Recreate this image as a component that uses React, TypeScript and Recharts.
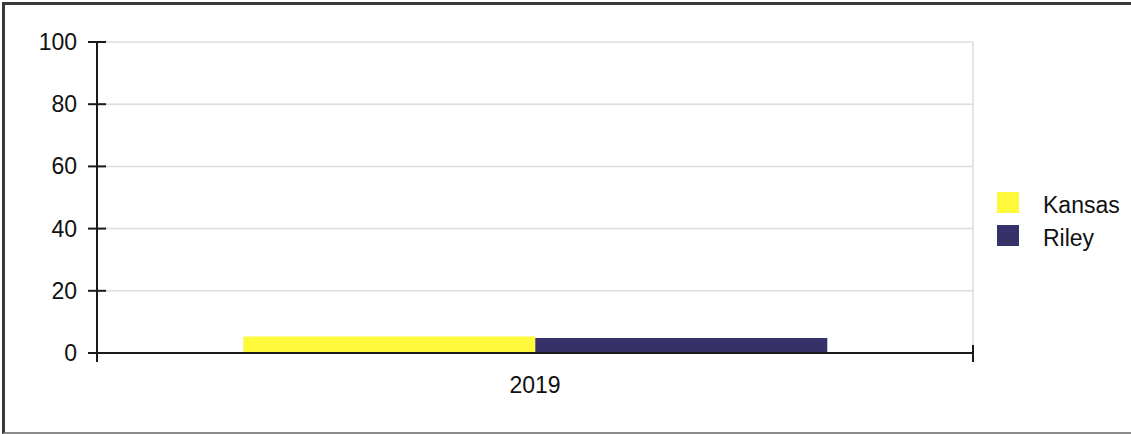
import React from "react";
import { BarChart, Bar, XAxis, YAxis, CartesianGrid, Legend } from "recharts";

const categories = ["2019"];
const kansasValues = [5.3];
const rileyValues = [4.8];
const yTicks = [0, 20, 40, 60, 80, 100];
const seriesNames = ["Kansas", "Riley"];
const seriesColors = ["#fff93c", "#37316a"];

const data = categories.map((c, i) => ({
  year: c,
  Kansas: kansasValues[i],
  Riley: rileyValues[i],
}));

const FONT = "'Liberation Sans', Arial, sans-serif";
const FS = 23;

const YTick = (props: any) => {
  const { x, y, payload } = props;
  return (
    <g>
      <line x1={x - 9} x2={x + 9} y1={y} y2={y} stroke="#1a1a1a" strokeWidth={2} />
      <text x={x - 20} y={y} dy={8} textAnchor="end" fontSize={FS} fill="#111" fontFamily={FONT}>
        {payload.value}
      </text>
    </g>
  );
};

const XTick = (props: any) => {
  const { x, y, payload, width } = props;
  const left = x - width / 2;
  const right = x + width / 2;
  return (
    <g>
      <line x1={left} x2={left} y1={y - 8} y2={y + 9} stroke="#1a1a1a" strokeWidth={2} />
      <line x1={right} x2={right} y1={y - 8} y2={y + 9} stroke="#1a1a1a" strokeWidth={2} />
      <text x={x} y={y} dy={40} textAnchor="middle" fontSize={FS} fill="#111" fontFamily={FONT}>
        {payload.value}
      </text>
    </g>
  );
};

const LegendContent = () => (
  <div style={{ fontFamily: FONT, fontSize: FS, color: "#111", position: "absolute", left: 0, top: 0, width: 130 }}>
    {seriesNames.map((n, i) => (
      <div key={n} style={{ display: "flex", alignItems: "center", height: 33 }}>
        <div style={{ width: 22, height: 21, background: seriesColors[i], marginRight: 24, flexShrink: 0 }} />
        <span style={{ position: "relative", top: 3 }}>{n}</span>
      </div>
    ))}
  </div>
);

export default function App() {
  return (
    <div style={{ position: "fixed", left: 0, top: 0, width: 1131, height: 434, overflow: "hidden", background: "#fff" }}>
      <BarChart
        width={1131}
        height={434}
        data={data}
        margin={{ top: 42, right: 158, bottom: 41, left: 37 }}
        barCategoryGap="16.7%"
        barGap={0}
      >
        <CartesianGrid
          stroke="#dcdcdc"
          strokeWidth={1.5}
          vertical={true}
          verticalCoordinatesGenerator={({ offset }: any) => [offset.left + offset.width]}
        />
        <XAxis
          dataKey="year"
          height={40}
          axisLine={{ stroke: "#1a1a1a", strokeWidth: 2 }}
          tickLine={false}
          tickSize={0}
          tickMargin={0}
          tick={<XTick />}
        />
        <YAxis
          width={60}
          domain={[0, 100]}
          ticks={yTicks}
          axisLine={{ stroke: "#1a1a1a", strokeWidth: 2 }}
          tickLine={false}
          tickSize={0}
          tickMargin={0}
          tick={<YTick />}
          interval={0}
        />
        <Legend
          content={<LegendContent />}
          wrapperStyle={{ position: "absolute", left: 997, top: 186, width: 0, height: 0, overflow: "visible" }}
        />
        <Bar dataKey="Kansas" fill={seriesColors[0]} isAnimationActive={false} />
        <Bar dataKey="Riley" fill={seriesColors[1]} isAnimationActive={false} />
      </BarChart>
      <div
        style={{
          position: "absolute",
          left: 2,
          top: 2,
          width: 1150,
          height: 427,
          borderTop: "3px solid #3a3a3a",
          borderLeft: "3px solid #3a3a3a",
          borderBottom: "2px solid #8a8a8a",
          zIndex: 5,
          pointerEvents: "none",
        }}
      />
    </div>
  );
}
